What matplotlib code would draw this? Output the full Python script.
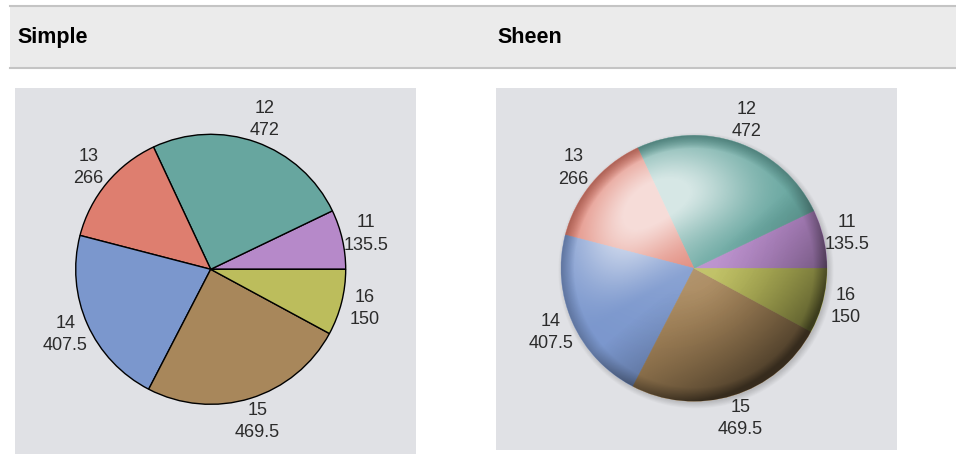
import numpy as np
import matplotlib
matplotlib.use('Agg')
import matplotlib.pyplot as plt
from matplotlib.patches import Rectangle, Circle
from matplotlib.lines import Line2D

# 데이터
categories = ['11', '12', '13', '14', '15', '16']
values = [135.5, 472, 266, 407.5, 469.5, 150]
value_labels = ['135.5', '472', '266', '407.5', '469.5', '150']
colors = ['#b689c9', '#67a69f', '#de7e6f', '#7b97cd', '#a8875b', '#bcbd5c']
panel_titles = ['Simple', 'Sheen']

W, H = 956, 476
fig = plt.figure(figsize=(W / 100, H / 100), dpi=100)
fig.patch.set_facecolor('white')

# 상단 헤더 바
fig.add_artist(Rectangle((10 / W, 1 - 68 / H), (W - 10) / W, 62 / H,
                         transform=fig.transFigure, facecolor='#ebebeb', edgecolor='none'))
for yy in (6, 68):
    fig.add_artist(Line2D([10 / W, 1], [1 - yy / H, 1 - yy / H], transform=fig.transFigure,
                          color='#c4c4c4', lw=1.5))
for title, x0 in zip(panel_titles, (17, 497)):
    fig.text(x0 / W, 1 - 37.5 / H, title, fontsize=15.5, fontweight='bold',
             family='Liberation Sans', color='black', ha='left', va='center')

label_font = dict(fontsize=13, family='Liberation Sans', color='#2b2b2b')


def make_panel(px0, py0, px1, py1, cx, cy, r, sheen):
    # 픽셀 단위 좌표계를 가진 axes
    ax = fig.add_axes([px0 / W, 1 - py1 / H, (px1 - px0) / W, (py1 - py0) / H])
    ax.set_facecolor('#e0e1e5')
    center = (cx - px0, py1 - cy)

    wedges, _ = ax.pie(values, colors=colors, startangle=0, counterclock=True,
                       center=center, radius=r, frame=True,
                       wedgeprops=dict(edgecolor='black', linewidth=1.0))
    if sheen:
        for w in wedges:
            w.set_edgecolor(w.get_facecolor())
            w.set_linewidth(0.3)
    ax.set_xlim(0, px1 - px0)
    ax.set_ylim(0, py1 - py0)
    ax.set_aspect('equal')
    ax.set_xticks([])
    ax.set_yticks([])
    for s in ax.spines.values():
        s.set_visible(False)

    # 라벨 (카테고리 + 값)
    for w, cat, val in zip(wedges, categories, value_labels):
        ang = np.deg2rad((w.theta1 + w.theta2) / 2)
        lx = center[0] + 1.18 * r * np.cos(ang)
        ly = center[1] + 1.18 * r * np.sin(ang)
        ax.text(lx, ly, cat + '\n' + val, ha='center', va='center',
                linespacing=1.4, zorder=5, **label_font)

    if sheen:
        n = 500
        g = np.linspace(-1.12, 1.12, n)
        u, v = np.meshgrid(g, g[::-1])
        rr = np.sqrt(u ** 2 + v ** 2)
        th = np.arctan2(v, u)
        ext = [center[0] - 1.12 * r, center[0] + 1.12 * r,
               center[1] - 1.12 * r, center[1] + 1.12 * r]

        # 그림자 (옅게)
        sd = np.sqrt((u - 0.015) ** 2 + (v + 0.02) ** 2)
        sh_a = 0.18 * np.clip(1 - (sd - 0.99) / 0.05, 0, 1)
        sh = np.zeros((n, n, 4))
        sh[..., 3] = sh_a
        ax.imshow(sh, extent=ext, zorder=0.5, interpolation='bilinear')
        for w in wedges:
            w.set_zorder(1)

        clip = Circle(center, r, transform=ax.transData, facecolor='none', edgecolor='none')
        ax.add_patch(clip)

        # 하이라이트 (왼쪽 위)
        hl_dir = np.cos(th - np.deg2rad(120))
        hl = np.clip(hl_dir, 0, 1) ** 1.2 * np.exp(-((rr - 0.6) / 0.35) ** 2) * 0.7
        hl += 0.18 * np.exp(-((u + 0.2) ** 2 + (v - 0.3) ** 2) / 0.3)
        hl = np.clip(hl, 0, 0.74)
        hl[rr > 0.9] *= np.clip(1 - (rr[rr > 0.9] - 0.9) / 0.1, 0, 1)
        white = np.ones((n, n, 4))
        white[..., 3] = hl
        im1 = ax.imshow(white, extent=ext, zorder=2, interpolation='bilinear')
        im1.set_clip_path(clip)

        # 어두운 부분 (오른쪽 아래 + 가장자리)
        dk_dir = np.clip(np.cos(th - np.deg2rad(-50)), 0, 1)
        dk = dk_dir * np.clip((rr - 0.15) / 0.85, 0, 1) ** 1.3 * 0.58
        dk += 0.22 * np.clip((rr - 0.9) / 0.1, 0, 1)
        dk = np.clip(dk, 0, 0.68)
        black = np.zeros((n, n, 4))
        black[..., 3] = dk
        im2 = ax.imshow(black, extent=ext, zorder=2.5, interpolation='bilinear')
        im2.set_clip_path(clip)
        ax.set_xlim(0, px1 - px0)
        ax.set_ylim(0, py1 - py0)
    return ax


make_panel(15, 88, 416, 454, 210.7, 269.3, 135, sheen=False)
make_panel(496, 88, 897, 450, 694, 268.3, 133, sheen=True)

plt.savefig('out.png', dpi=100)
